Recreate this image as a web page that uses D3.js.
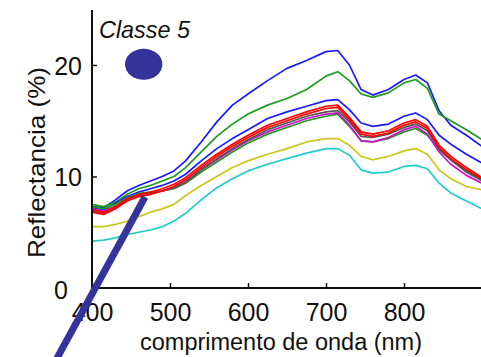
<!DOCTYPE html>
<html>
<head>
<meta charset="utf-8">
<script src="https://cdn.jsdelivr.net/npm/d3@7"></script>
<style>
  html, body { margin: 0; padding: 0; background: #fff; }
  svg { display: block; font-family: "Liberation Sans", Arial, sans-serif; }
</style>
</head>
<body>
<svg id="chart" width="481" height="357"></svg>
<script>
// Wavelengths (nm) at which each reflectance spectrum is sampled
const wavelengths = [400,415,430,445,460,475,490,505,520,540,560,580,600,625,650,675,700,715,730,745,760,780,800,815,830,845,860,880,900];

// Reflectance (%) per sample spectrum of class 5
const blueHigh  = [7.3,7.2,7.9,8.7,9.2,9.6,10.0,10.5,11.4,13.1,14.9,16.4,17.4,18.6,19.7,20.4,21.2,21.3,20.0,17.8,17.3,17.8,18.7,19.1,18.4,15.9,14.6,13.7,12.7];
const greenHigh = [7.5,7.3,7.7,8.4,8.9,9.2,9.6,10.0,10.8,12.2,13.6,14.7,15.6,16.4,17.0,17.8,19.0,19.4,18.6,17.4,17.1,17.5,18.4,18.7,17.9,15.6,15.0,14.2,13.3];
const blueMid   = [7.2,7.0,7.6,8.2,8.6,8.9,9.2,9.6,10.2,11.4,12.5,13.4,14.2,15.2,15.8,16.3,16.8,16.9,16.0,14.8,14.5,14.7,15.4,15.7,15.1,13.7,12.9,12.0,11.2];
const redA      = [7.0,6.8,7.3,8.0,8.4,8.6,8.9,9.3,9.9,11.0,12.0,12.9,13.7,14.6,15.2,15.8,16.3,16.4,15.3,14.0,13.8,14.1,14.8,15.1,14.5,12.8,11.8,10.8,9.9];
const redB      = [6.8,6.6,7.1,7.8,8.2,8.4,8.7,9.1,9.7,10.8,11.8,12.7,13.5,14.4,15.0,15.6,16.1,16.2,15.1,13.8,13.6,13.9,14.6,14.9,14.3,12.6,11.6,10.6,9.8];
const greyMid   = [6.9,6.7,7.2,7.9,8.3,8.5,8.7,9.0,9.5,10.6,11.6,12.5,13.3,14.2,14.8,15.4,15.8,15.9,14.9,13.6,13.5,13.8,14.4,14.7,14.1,12.5,11.5,10.4,9.6];
const magenta   = [7.1,6.9,7.3,7.9,8.3,8.5,8.7,9.0,9.5,10.6,11.5,12.4,13.2,14.0,14.6,15.2,15.6,15.7,14.6,13.2,13.1,13.5,14.2,14.5,13.8,12.2,11.1,10.1,9.4];
const greenLow  = [7.3,7.1,7.5,8.1,8.5,8.6,8.7,8.9,9.4,10.4,11.3,12.2,13.0,13.8,14.4,15.0,15.4,15.6,14.5,13.2,13.1,13.4,14.0,14.3,13.7,12.4,11.5,10.5,9.7];
const yellow    = [5.5,5.5,5.7,6.0,6.4,6.8,7.1,7.5,8.3,9.2,10.0,10.8,11.4,12.0,12.5,13.1,13.4,13.4,12.8,11.8,11.5,11.8,12.3,12.5,12.0,10.6,9.8,9.1,8.8];
const cyan      = [4.2,4.3,4.5,4.8,5.0,5.2,5.5,6.0,6.7,7.9,9.0,9.8,10.5,11.1,11.6,12.1,12.5,12.5,11.9,10.6,10.3,10.4,10.9,11.0,10.7,9.4,8.5,7.8,7.1];

// Tick values
const xTicks = [400,500,600,700,800];
const yTicks = [0,10,20];

// Drawing order (back to front) and stroke colours
const series = [
  {values: cyan,      color: "#1ecccc"},
  {values: yellow,    color: "#c8c81e"},
  {values: blueHigh,  color: "#1a1aff"},
  {values: greenHigh, color: "#1f9a1f"},
  {values: blueMid,   color: "#1a1aff"},
  {values: greenLow,  color: "#1f9a1f"},
  {values: magenta,   color: "#cc11cc"},
  {values: greyMid,   color: "#555555"},
  {values: redB,      color: "#ff0000"},
  {values: redA,      color: "#ff0000"}
];

const svg = d3.select("#chart");

const x = d3.scaleLinear().domain([400, 900]).range([92, 482]);
const y = d3.scaleLinear().domain([0, 25]).range([288, 9.25]);

const line = d3.line()
  .x((d, i) => x(wavelengths[i]))
  .y(d => y(d));

// Spectra
svg.append("g")
  .selectAll("path")
  .data(series)
  .join("path")
  .attr("d", d => line(d.values))
  .attr("fill", "none")
  .attr("stroke", d => d.color)
  .attr("stroke-width", 1.7)
  .attr("stroke-linejoin", "round");

// X axis
const gx = svg.append("g")
  .attr("transform", `translate(0,${y(0)})`)
  .call(d3.axisBottom(x).tickValues(xTicks).tickSize(-5).tickSizeOuter(0));
gx.select(".domain").attr("stroke", "#111").attr("stroke-width", 2)
  .attr("d", `M${x(400)},0H481`);
gx.selectAll(".tick line").attr("stroke", "#111").attr("stroke-width", 1.5);
gx.selectAll(".tick text")
  .attr("y", 33).attr("dy", 0)
  .attr("font-size", 25).attr("fill", "#111")
  .attr("font-family", "Liberation Sans, Arial, sans-serif");

// Y axis
const gy = svg.append("g")
  .attr("transform", `translate(${x(400)},0)`)
  .call(d3.axisLeft(y).tickValues(yTicks).tickSize(-5).tickSizeOuter(0));
gy.select(".domain").attr("stroke", "#111").attr("stroke-width", 2)
  .attr("d", `M0,10V${y(0)}`);
gy.selectAll(".tick line").attr("stroke", "#111").attr("stroke-width", 1.5)
  .filter(d => d === 0).remove();
gy.selectAll(".tick text")
  .attr("x", -10).attr("dy", "0.36em")
  .attr("font-size", 25).attr("fill", "#111")
  .attr("font-family", "Liberation Sans, Arial, sans-serif");
gy.selectAll(".tick text").filter(d => d === 0)
  .attr("x", -24).attr("dy", 0).attr("y", 10);

// Axis titles
svg.append("text")
  .attr("x", 140).attr("y", 350)
  .attr("font-size", 23).attr("fill", "#111")
  .attr("textLength", 282).attr("lengthAdjust", "spacingAndGlyphs")
  .text("comprimento de onda (nm)");

svg.append("text")
  .attr("transform", "translate(45,258) rotate(-90)")
  .attr("font-size", 24).attr("fill", "#111")
  .attr("textLength", 191).attr("lengthAdjust", "spacingAndGlyphs")
  .text("Reflectancia (%)");

// Class title
svg.append("text")
  .attr("x", 99).attr("y", 38)
  .attr("font-size", 24).attr("font-style", "italic").attr("fill", "#111")
  .attr("textLength", 91).attr("lengthAdjust", "spacingAndGlyphs")
  .text("Classe 5");

// Marker and pointer
svg.append("ellipse")
  .attr("cx", 143.7).attr("cy", 64.3)
  .attr("rx", 18.7).attr("ry", 15.5)
  .attr("fill", "#333399");

svg.append("line")
  .attr("x1", 145).attr("y1", 197)
  .attr("x2", 56).attr("y2", 360)
  .attr("stroke", "#333399").attr("stroke-width", 7);
</script>
</body>
</html>
